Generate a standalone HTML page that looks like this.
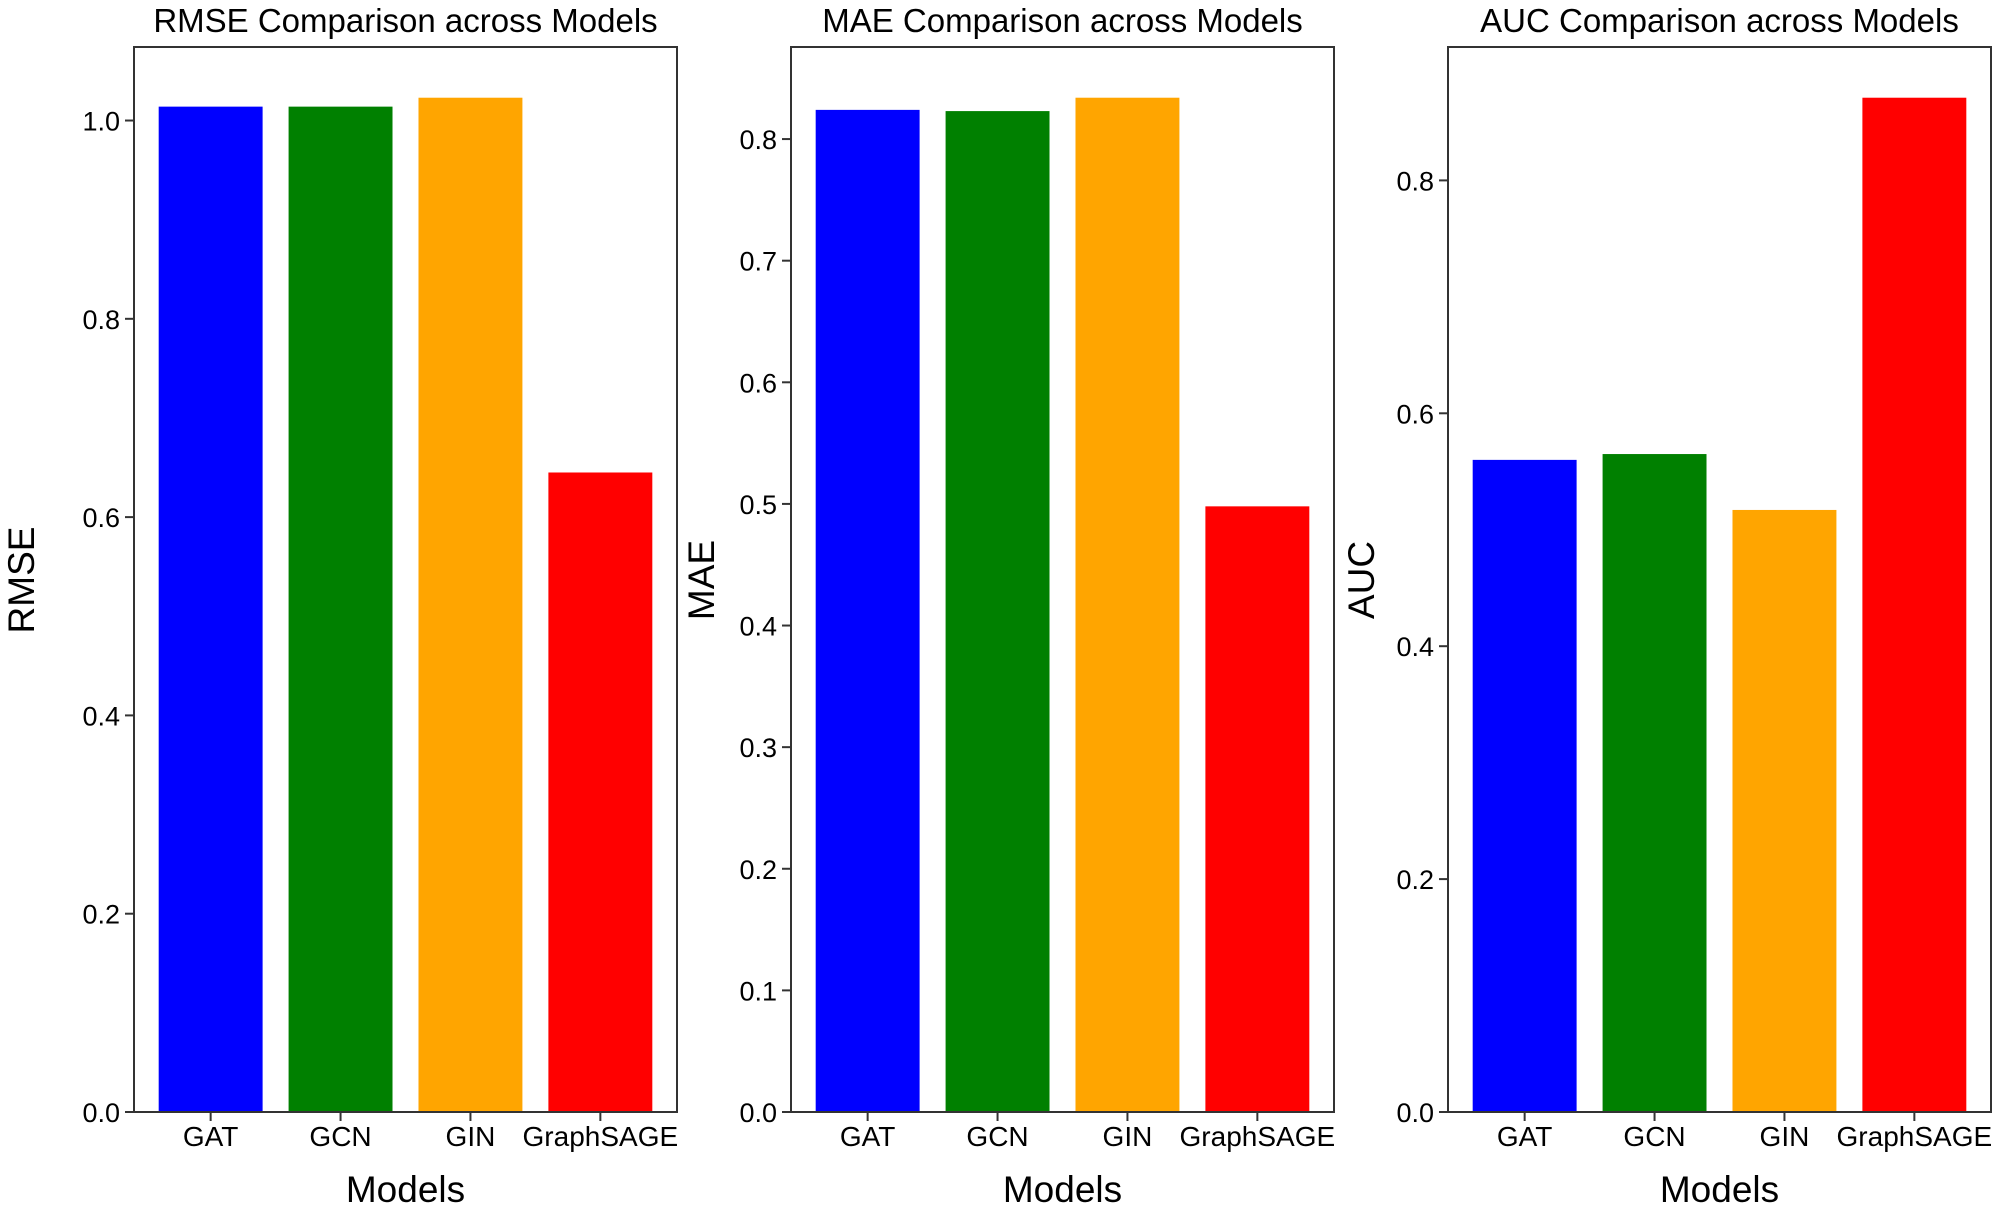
<!DOCTYPE html>
<html><head><meta charset="utf-8"><style>
html,body{margin:0;padding:0;background:#fff;}
svg{display:block;font-family:"Liberation Sans",Arial,sans-serif;}
</style></head><body>
<svg id="chart" width="2000" height="1206" viewBox="0 0 2000 1206" xmlns="http://www.w3.org/2000/svg"></svg>
<script>
const categories = ["GAT", "GCN", "GIN", "GraphSAGE"];
const barColors = ["#0000ff", "#008000", "#ffa500", "#ff0000"];
const rmseValues = [1.014, 1.014, 1.023, 0.645];
const maeValues = [0.824, 0.823, 0.834, 0.498];
const aucValues = [0.560, 0.565, 0.517, 0.871];
const rmseTicks = [0.0, 0.2, 0.4, 0.6, 0.8, 1.0];
const maeTicks = [0.0, 0.1, 0.2, 0.3, 0.4, 0.5, 0.6, 0.7, 0.8];
const aucTicks = [0.0, 0.2, 0.4, 0.6, 0.8];
const panelTitles = ["RMSE Comparison across Models", "MAE Comparison across Models", "AUC Comparison across Models"];
const yTitles = ["RMSE", "MAE", "AUC"];

const NS = "http://www.w3.org/2000/svg";
const svgRoot = document.getElementById("chart");
function mk(tag, attrs, parent, text) {
  const e = document.createElementNS(NS, tag);
  for (const k in attrs) e.setAttribute(k, attrs[k]);
  if (text !== undefined) e.textContent = text;
  (parent || svgRoot).appendChild(e);
  return e;
}
const panels = [
  {left: 134, values: rmseValues, ticks: rmseTicks, key: "rmse", ylx: 34},
  {left: 791, values: maeValues, ticks: maeTicks, key: "mae", ylx: 714},
  {left: 1448, values: aucValues, ticks: aucTicks, key: "auc", ylx: 1374}
];
const plotTop = 47, plotBottom = 1112, plotW = 543;
panels.forEach((p, pi) => {
  const g = mk("g", {});
  
  
  const maxV = Math.max(...p.values) * 1.05;
  const y = v => plotBottom - v / maxV * (plotBottom - plotTop);
  const x0 = -0.59, x1 = 3.59;
  const x = c => p.left + (c - x0) / (x1 - x0) * plotW;
  p.values.forEach((v, i) => {
    const r = mk("rect", {x: x(i - 0.4), y: y(v), width: x(i + 0.4) - x(i - 0.4), height: plotBottom - y(v), fill: barColors[i]}, g);
    
    
  });
  const f = mk("rect", {x: p.left, y: plotTop, width: plotW, height: plotBottom - plotTop, fill: "none", stroke: "#333", "stroke-width": 2}, g);
  
  
  p.ticks.forEach(t => {
    const yy = y(t);
    const tl = mk("line", {x1: p.left - 9, x2: p.left, y1: yy, y2: yy, stroke: "#333", "stroke-width": 2}, g);
    
    
    const tx = mk("text", {x: p.left - 14, y: yy + 10, "text-anchor": "end", "font-size": 27, fill: "#000"}, g, t.toFixed(1));
    
    
  });
  categories.forEach((c, i) => {
    const xx = x(i);
    const tl = mk("line", {x1: xx, x2: xx, y1: plotBottom, y2: plotBottom + 9, stroke: "#333", "stroke-width": 2}, g);
    
    
    const tx = mk("text", {x: xx, y: 1146, "text-anchor": "middle", "font-size": 28, fill: "#000"}, g, c);
    
    
  });
  const tt = mk("text", {x: p.left + plotW / 2, y: 32, "text-anchor": "middle", "font-size": 33, fill: "#000"}, g, panelTitles[pi]);
  
  
  const xt = mk("text", {x: p.left + plotW / 2, y: 1202, "text-anchor": "middle", "font-size": 37, fill: "#000"}, g, "Models");
  
  
  const yt = mk("text", {x: p.ylx, y: 580, "text-anchor": "middle", "font-size": 37, fill: "#000", transform: "rotate(-90 " + p.ylx + " 580)"}, g, yTitles[pi]);
  
  
});
</script>
</body></html>
